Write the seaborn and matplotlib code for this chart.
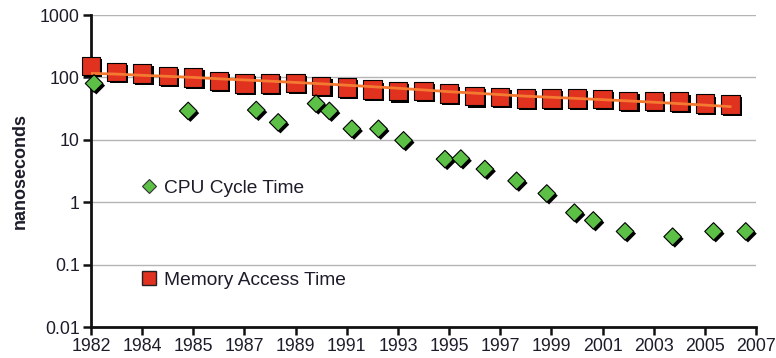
import matplotlib
matplotlib.use("Agg")
import matplotlib.pyplot as plt
import matplotlib.patheffects as pe
from matplotlib.lines import Line2D
import seaborn as sns
import pandas as pd

# ---- data (x = position along the category axis, 0 = 1982 tick, 13 = 2007 tick)
tick_labels = ["1982", "1984", "1985", "1987", "1989", "1991", "1993",
               "1995", "1997", "1999", "2001", "2003", "2005", "2007"]
y_ticks = [0.01, 0.1, 1, 10, 100, 1000]
y_tick_labels = ["0.01", "0.1", "1", "10", "100", "1000"]

mem_x = [0.0, 0.5, 1.0, 1.5, 2.0, 2.5, 3.0, 3.5, 4.0, 4.5, 5.0, 5.5, 6.0,
         6.5, 7.0, 7.5, 8.0, 8.5, 9.0, 9.5, 10.0, 10.5, 11.0, 11.5, 12.0, 12.5]
mem_ns = [153, 123, 116, 106, 100, 88, 80, 80, 82, 73, 69, 64, 60,
          61, 55, 50, 49, 46, 46, 46, 45, 42, 42, 41, 38, 37]
mem_trend = [116, 113, 108, 104, 100, 95, 91, 87, 83, 79, 75, 71, 67,
             63, 59, 56, 53, 50, 48, 46, 44, 42, 40, 38, 36, 34]

cpu_x = [0.06, 1.90, 3.23, 3.66, 4.40, 4.66, 5.10, 5.62, 6.11, 6.92,
         7.23, 7.70, 8.32, 8.91, 9.45, 9.82, 10.44, 11.37, 12.17, 12.80]
cpu_ns = [80, 29, 30, 19, 38, 29, 15, 15, 9.8, 4.9,
          5.0, 3.4, 2.2, 1.38, 0.68, 0.51, 0.34, 0.28, 0.34, 0.34]

mem_df = pd.DataFrame({"x": mem_x, "ns": mem_ns, "trend": mem_trend})
cpu_df = pd.DataFrame({"x": cpu_x, "ns": cpu_ns})

# ---- style
sns.set_theme(style="white")
plt.rcParams["font.family"] = ["Liberation Sans", "DejaVu Sans"]

RED = "#E0321F"
GREEN = "#5CC046"
ORANGE = "#F47A32"
TEXT = "#1c1c2a"

fig = plt.figure(figsize=(7.76, 3.58), dpi=100)
ax = fig.add_axes([91 / 776, 1 - 327 / 358, 665 / 776, 312 / 358])

shadow = [pe.SimplePatchShadow(offset=(1.6, -1.6), shadow_rgbFace="black", alpha=1.0), pe.Normal()]

sns.scatterplot(data=mem_df, x="x", y="ns", marker="s", s=175, color=RED,
                edgecolor="black", linewidth=0.8, ax=ax, zorder=3)
ax.collections[-1].set_path_effects(shadow)
ax.collections[-1].set_clip_on(False)

sns.lineplot(data=mem_df, x="x", y="trend", color=ORANGE, linewidth=2.0, ax=ax, zorder=4)

sns.scatterplot(data=cpu_df, x="x", y="ns", marker="D", s=80, color=GREEN,
                edgecolor="black", linewidth=0.8, ax=ax, zorder=5)
ax.collections[-1].set_path_effects(shadow)
ax.collections[-1].set_clip_on(False)

ax.set_yscale("log")
ax.set_ylim(0.01, 1000)
ax.set_xlim(0, 13)
ax.set_yticks(y_ticks)
ax.set_yticklabels(y_tick_labels)
ax.set_xticks(range(len(tick_labels)))
ax.set_xticklabels(tick_labels)
ax.yaxis.set_minor_locator(matplotlib.ticker.NullLocator())

ax.grid(axis="y", color="#b4b4b4", linewidth=1.0)
ax.grid(axis="x", visible=False)
ax.set_axisbelow(True)

for s in ["top", "right"]:
    ax.spines[s].set_visible(False)
for s in ["left", "bottom"]:
    ax.spines[s].set_color("#111111")
    ax.spines[s].set_linewidth(2.0)

ax.tick_params(axis="both", which="major", direction="out", length=6, width=1.8,
               color="#111111", labelsize=12.8, labelcolor=TEXT, pad=2,
               left=True, bottom=True)

ax.set_xlabel("")
ax.set_ylabel("nanoseconds", fontsize=13, fontweight="bold", color=TEXT, labelpad=8)

# ---- legend-like labels
h_cpu = Line2D([], [], linestyle="none", marker="D", markersize=7.5,
               markerfacecolor=GREEN, markeredgecolor="#333333", markeredgewidth=0.8)
h_mem = Line2D([], [], linestyle="none", marker="s", markersize=10,
               markerfacecolor=RED, markeredgecolor="#222222", markeredgewidth=1.0)

leg1 = ax.legend(handles=[h_cpu], labels=["CPU Cycle Time"], loc="center left",
                 bbox_to_anchor=((139 - 91) / 665, (327 - 188) / 312), frameon=False,
                 borderpad=0, handlelength=1.0, handletextpad=0.3, fontsize=13.8,
                 labelcolor=TEXT, borderaxespad=0)
ax.add_artist(leg1)
ax.legend(handles=[h_mem], labels=["Memory Access Time"], loc="center left",
          bbox_to_anchor=((139 - 91) / 665, (327 - 280) / 312), frameon=False,
          borderpad=0, handlelength=1.0, handletextpad=0.3, fontsize=13.8,
          labelcolor=TEXT, borderaxespad=0)

fig.savefig("out.png", dpi=100)
